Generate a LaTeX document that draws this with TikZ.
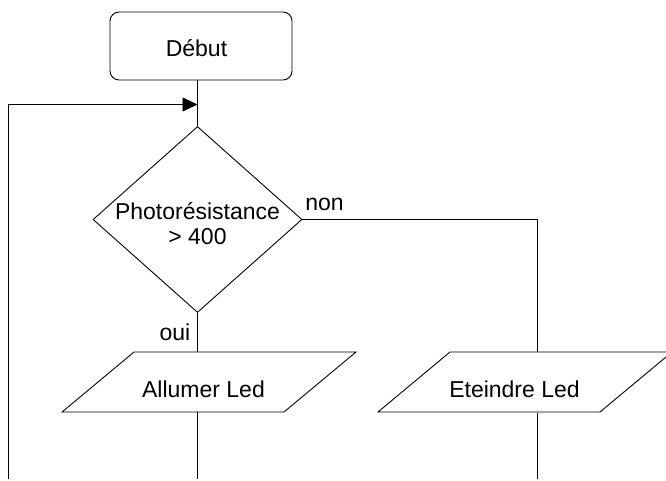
\documentclass[tikz,border=0pt]{standalone}
\usepackage{fontspec}
\setmainfont{Liberation Sans}
\usetikzlibrary{shapes.geometric,arrows.meta,calc}

\tikzset{
  every node/.style={font=\fontsize{23}{25}\selectfont, inner sep=0pt},
  flow/.style={line width=0.9pt, draw=black},
  startbox/.style={flow, rectangle, rounded corners=9pt, minimum width=182pt,
                   minimum height=68pt, text height=45pt, text depth=23pt},
  test/.style={flow, diamond, minimum width=209pt, minimum height=186pt},
  iobox/.style={minimum width=294pt, minimum height=60pt, text height=45pt, text depth=15pt},
  tag/.style={anchor=base},
  loopback/.style={flow, -{Triangle[length=15pt, width=14pt]}}
}

% zero-size two-line label, so the diamond keeps its own size
\newcommand{\twolines}[2]{\raisebox{-13.75pt}[0pt][0pt]{\makebox[0pt]{\begin{tabular}{@{}c@{}}#1\\#2\end{tabular}}}}

\begin{document}
\begin{tikzpicture}[x=1pt, y=-1pt]
  \useasboundingbox (0,0) rectangle (666,481);

  % start block and decision
  \node[startbox] (start) at (201,46) {\hspace*{-9pt}Début};
  \node[test] (dec) at (197.5,219.5) {\twolines{Photorésistance}{> 400}};

  % output blocks (text nodes; parallelogram outlines drawn below)
  \node[iobox] (allumer) at (203.5,382) {Allumer Led};
  \node[iobox] (eteindre) at (514.5,382) {Eteindre Led};

  \draw[flow] ($(allumer)+(-141.5,30)$) -- ($(allumer)+(-69.5,-30)$)
              -- ($(allumer)+(152.5,-30)$) -- ($(allumer)+(80.5,30)$) -- cycle;
  \draw[flow] ($(eteindre)+(-136.5,30)$) -- ($(eteindre)+(-64.5,-30)$)
              -- ($(eteindre)+(157.5,-30)$) -- ($(eteindre)+(85.5,30)$) -- cycle;

  % helper points for the open ends and the loop
  \coordinate (eteTop) at (537.5,352);
  \coordinate (eteBot) at (537.5,413);
  \coordinate (eteEnd) at (537.5,479);
  \coordinate (allEnd) at (197.5,479);
  \coordinate (loopTop) at (8,104.5);
  \coordinate (loopEnd) at (8,479);

  % connectors
  \draw[flow] (dec.north |- start.south) -- (dec.north);
  \draw[flow] (dec.south) -- (dec.south |- allumer.north);
  \draw[flow] (dec.east) -| (eteTop);
  \draw[flow] (dec.south |- allumer.south) -- (allEnd);
  \draw[flow] (eteBot) -- (eteEnd);
  \draw[loopback] (loopEnd) -- (loopTop) -- (loopTop -| dec.north);

  % branch labels
  \node[tag] (non) at (324.5,210) {non};
  \node[tag] (oui) at (175,340) {oui};
\end{tikzpicture}
\end{document}
